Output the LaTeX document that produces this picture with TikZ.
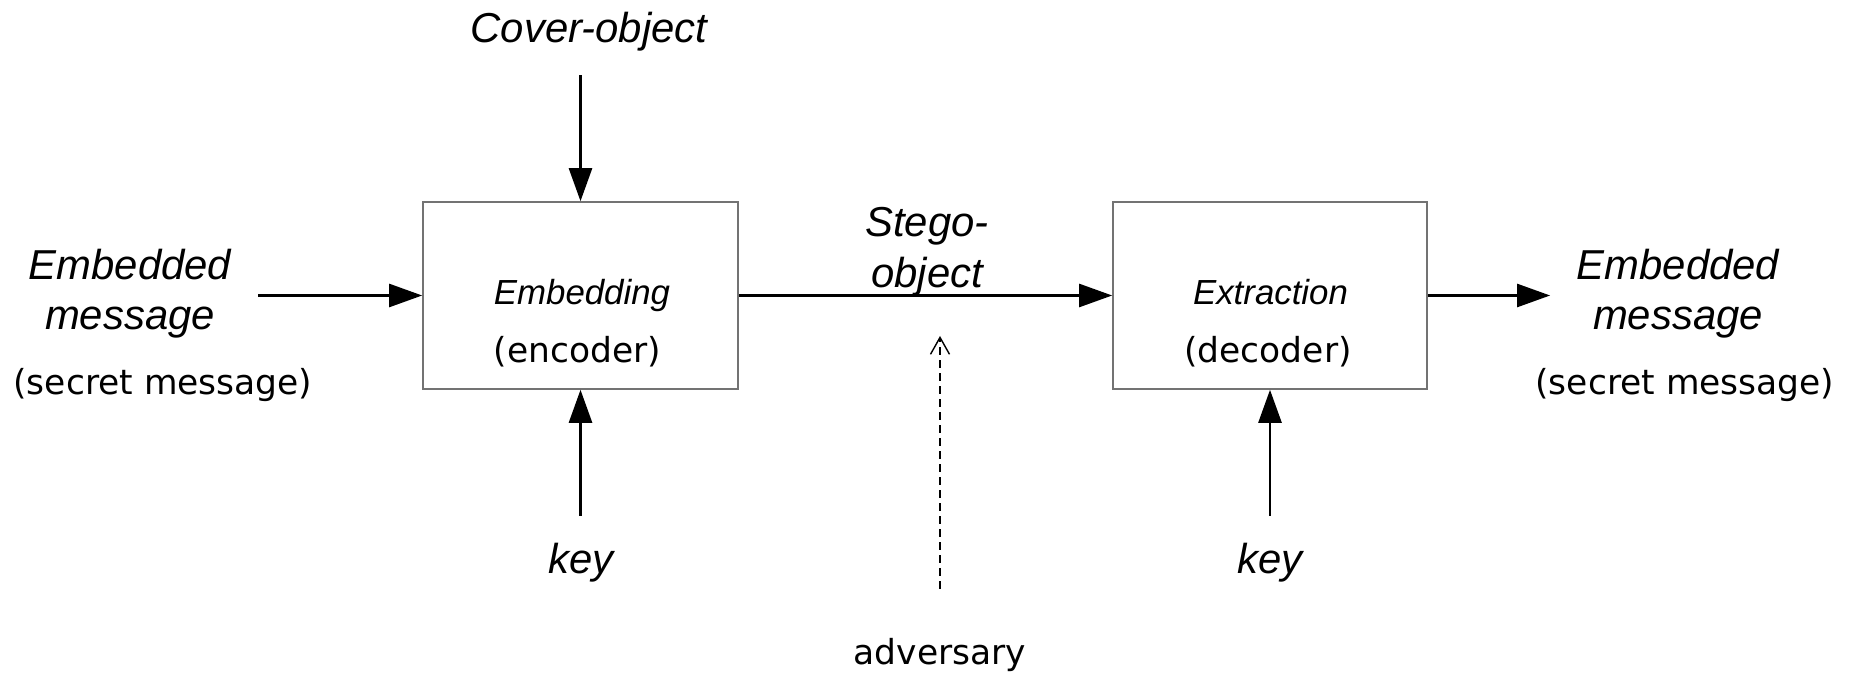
\documentclass[tikz,border=0pt]{standalone}
\usepackage{fontspec}
\setmainfont{Liberation Sans}
\newfontfamily\comicf{DejaVu Sans}
\usetikzlibrary{arrows.meta}
\tikzset{
  bigtxt/.style={inner sep=0pt, anchor=base, font=\fontsize{11.9}{14.3}\selectfont\itshape},
  boxtxt/.style={inner sep=0pt, anchor=base, font=\fontsize{9.9}{12}\selectfont\itshape},
  comictxt/.style={inner sep=0pt, anchor=base, font=\fontsize{9.8}{12}\selectfont\comicf},
  procbox/.style={draw=black!55, line width=0.45pt, minimum width=3.15cm, minimum height=1.87cm, inner sep=0pt},
  flow/.style={line width=0.6pt, -{Triangle[length=9.4pt,width=6.6pt]}},
  spy/.style={line width=0.4pt, dash pattern=on 2.2pt off 1.5pt, -{Straight Barb[length=4.8pt,width=5.4pt]}}
}
\begin{document}
\begin{tikzpicture}[x=0.01cm,y=-0.01cm]
\useasboundingbox (0,0) rectangle (1854,674);
% boxes
\node[procbox] (enc) at (580.5,295.5) {};
\node[procbox, minimum width=3.14cm] (dec) at (1270,295.5) {};
% box texts
\node[boxtxt] (embtxt) at (582,305) {Embedding};
\node[comictxt] (enctxt) at (577.5,363) {(encoder)};
\node[boxtxt] (exttxt) at (1270.5,305) {Extraction};
\node[comictxt] (dectxt) at (1268,363) {(decoder)};
% outer labels
\node[bigtxt] (cover) at (589,43) {Cover-object};
\node[bigtxt, align=center, anchor=north] (embL) at (130,248) {Embedded\\message};
\node[comictxt] (secL) at (163,395) {(secret message)};
\node[bigtxt, align=center, anchor=north] (embR) at (1678,248) {Embedded\\message};
\node[comictxt] (secR) at (1685,395) {(secret message)};
\node[bigtxt, align=center, anchor=north] (stego) at (927,207) {Stego-\\object};
\node[bigtxt] (key1) at (581,574) {key};
\node[bigtxt] (key2) at (1270,574) {key};
\node[comictxt] (adv) at (940,665) {adversary};
\coordinate (advtip) at (940,336);
% connectors
\draw[flow, shorten <=6.5pt] (cover.south -| enc.north) -- (enc.north);
\draw[flow, shorten <=7.5pt] (embL.east |- enc.west) -- (enc.west);
\draw[flow] (enc.east) -- (dec.west);
\draw[flow, shorten >=7.4pt] (dec.east) -- (embR.west |- dec.east);
\draw[flow, shorten <=7.8pt] (key1.north -| enc.south) -- (enc.south);
\draw[flow, shorten <=7.8pt] (key2.north -| dec.south) -- (dec.south);
\draw[spy, shorten <=14pt] (adv.north) -- (advtip);
\end{tikzpicture}
\end{document}
